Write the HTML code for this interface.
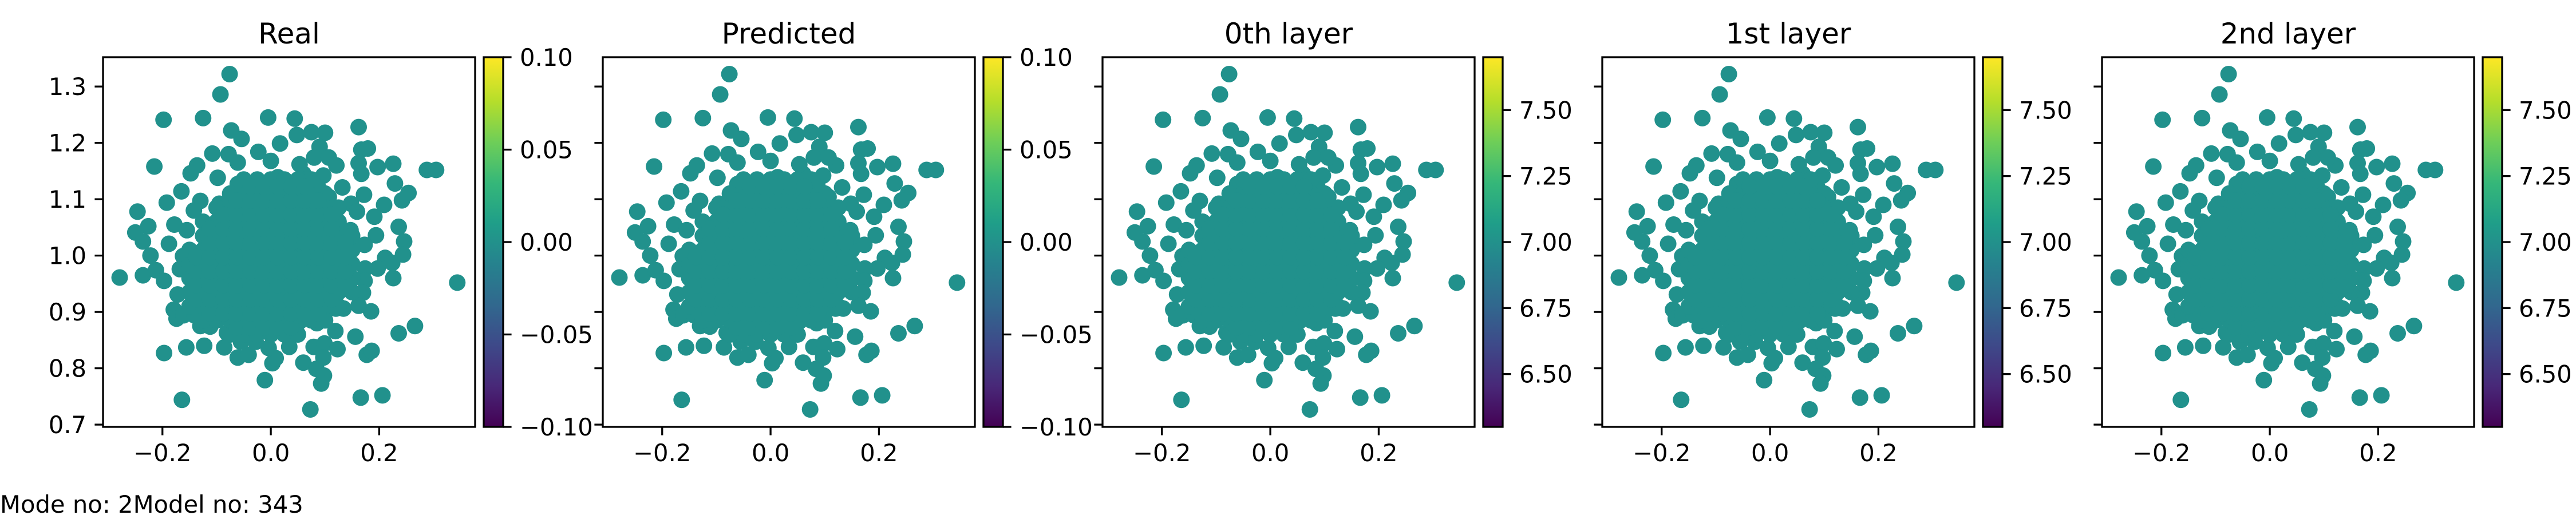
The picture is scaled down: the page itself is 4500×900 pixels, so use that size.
<!DOCTYPE html>
<html><head><meta charset="utf-8"><style>
html,body{margin:0;padding:0;background:#fff;}
svg{display:block;font-family:"DejaVu Sans","Liberation Sans",sans-serif;}
</style></head><body>
<svg id="chart" width="4500" height="900" viewBox="0 0 4500 900" xmlns="http://www.w3.org/2000/svg">
<defs><linearGradient id="viridis" x1="0" y1="1" x2="0" y2="0">
<stop offset="0" stop-color="#440154"/><stop offset="0.11" stop-color="#482878"/><stop offset="0.22" stop-color="#3e4989"/><stop offset="0.33" stop-color="#31688e"/><stop offset="0.44" stop-color="#26828e"/><stop offset="0.55" stop-color="#1f9e89"/><stop offset="0.66" stop-color="#35b779"/><stop offset="0.77" stop-color="#6ece58"/><stop offset="0.88" stop-color="#b5de2b"/><stop offset="1" stop-color="#fde725"/>
</linearGradient></defs>
<text x="0" y="896" font-size="41.7">Mode no: 2Model no: 343</text>
</svg>
<script>
const panelTitles = ["Real","Predicted","0th layer","1st layer","2nd layer"];
const xTicks = [-0.2,0.0,0.2];
const xTickLabels = ["\u22120.2","0.0","0.2"];
const yTicks = [0.7,0.8,0.9,1.0,1.1,1.2,1.3];
const yTickLabels = ["0.7","0.8","0.9","1.0","1.1","1.2","1.3"];
const cbRanges = [[-0.1,0.1],[-0.1,0.1],[6.3,7.7],[6.3,7.7],[6.3,7.7]];
const cbTicksA = [-0.10,-0.05,0.00,0.05,0.10];
const cbLabelsA = ["\u22120.10","\u22120.05","0.00","0.05","0.10"];
const cbTicksB = [6.50,6.75,7.00,7.25,7.50];
const cbLabelsB = ["6.50","6.75","7.00","7.25","7.50"];
const outerPoints = [
[-0.076,1.322],[-0.093,1.286],[-0.198,1.241],[-0.125,1.244],[-0.005,1.245],[0.044,1.243],[0.162,1.228],[-0.073,1.222],[0.048,1.214],[0.075,1.219],[0.100,1.218],[-0.054,1.207],[0.017,1.199],[0.090,1.193],[-0.023,1.184],[-0.108,1.181],[0.167,1.188],[0.179,1.190],[-0.078,1.180],[-0.215,1.158],[-0.136,1.160],[-0.148,1.146],[-0.061,1.165],[0.162,1.164],[0.197,1.157],[0.226,1.163],[0.288,1.152],[0.305,1.152],[0.121,1.160],[0.167,1.145],[0.097,1.142],[-0.098,1.138],[0.229,1.128],[0.132,1.121],[0.254,1.111],[0.172,1.108],[0.242,1.098],[0.209,1.090],[-0.165,1.114],[-0.192,1.094],[-0.130,1.097],[-0.246,1.078],[0.148,1.092],[0.159,1.078],[0.191,1.069],[-0.226,1.052],[-0.250,1.041],[-0.178,1.055],[-0.236,1.025],[0.236,1.051],[0.194,1.036],[0.246,1.025],[0.173,1.019],[-0.188,1.021],[-0.222,1.000],[0.244,1.002],[0.211,0.996],[0.224,0.987],[-0.279,0.961],[-0.236,0.965],[-0.212,0.974],[-0.197,0.955],[0.344,0.952],[0.226,0.960],[0.197,0.977],[0.174,0.977],[0.173,0.955],[-0.172,0.931],[0.170,0.934],[0.145,0.952],[-0.179,0.904],[-0.174,0.888],[0.185,0.901],[0.162,0.911],[0.134,0.906],[-0.130,0.875],[-0.112,0.874],[0.266,0.875],[0.236,0.862],[0.156,0.856],[0.119,0.866],[0.085,0.880],[0.053,0.883],[0.033,0.863],[-0.081,0.863],[-0.197,0.827],[-0.156,0.837],[-0.123,0.840],[-0.086,0.837],[-0.061,0.819],[-0.041,0.824],[0.003,0.809],[0.009,0.818],[0.034,0.838],[0.079,0.838],[0.099,0.844],[0.123,0.834],[0.097,0.819],[0.060,0.810],[0.084,0.799],[0.098,0.787],[0.093,0.773],[0.177,0.824],[0.186,0.831],[-0.011,0.779],[-0.164,0.744],[0.073,0.727],[0.166,0.748],[0.206,0.752],[-0.028,0.847],[-0.004,0.836],[-0.055,0.847],[-0.161,0.894],[-0.141,0.894],[0.120,0.906],[0.127,1.045],[0.147,1.045],[0.140,1.022],[-0.155,1.045],[-0.162,0.999],[-0.168,0.976],[-0.148,0.964],[-0.142,1.080],[-0.095,1.092],[-0.061,1.127],[-0.028,1.127],[0.013,1.139],[0.060,1.145],[0.087,1.121],[0.107,1.104],[0.114,1.075],[0.080,1.174],[0.053,1.162],[0.000,1.168],[0.107,1.174]];
const corePoints = [
[-0.075,0.86],[-0.05,0.86],[-0.025,0.86],[0,0.86],[0.025,0.86],[0.05,0.86],
[-0.125,0.885],[-0.1,0.885],[-0.075,0.885],[-0.05,0.885],[-0.025,0.885],[0,0.885],[0.025,0.885],[0.05,0.885],[0.075,0.885],[0.1,0.885],
[-0.15,0.91],[-0.125,0.91],[-0.1,0.91],[-0.075,0.91],[-0.05,0.91],[-0.025,0.91],[0,0.91],[0.025,0.91],[0.05,0.91],[0.075,0.91],[0.1,0.91],[0.125,0.91],
[-0.15,0.935],[-0.125,0.935],[-0.1,0.935],[-0.075,0.935],[-0.05,0.935],[-0.025,0.935],[0,0.935],[0.025,0.935],[0.05,0.935],[0.075,0.935],[0.1,0.935],[0.125,0.935],[0.15,0.935],
[-0.15,0.96],[-0.125,0.96],[-0.1,0.96],[-0.075,0.96],[-0.05,0.96],[-0.025,0.96],[0,0.96],[0.025,0.96],[0.05,0.96],[0.075,0.96],[0.1,0.96],[0.125,0.96],[0.15,0.96],
[-0.15,0.985],[-0.125,0.985],[-0.1,0.985],[-0.075,0.985],[-0.05,0.985],[-0.025,0.985],[0,0.985],[0.025,0.985],[0.05,0.985],[0.075,0.985],[0.1,0.985],[0.125,0.985],[0.15,0.985],
[-0.15,1.01],[-0.125,1.01],[-0.1,1.01],[-0.075,1.01],[-0.05,1.01],[-0.025,1.01],[0,1.01],[0.025,1.01],[0.05,1.01],[0.075,1.01],[0.1,1.01],[0.125,1.01],[0.15,1.01],
[-0.125,1.035],[-0.1,1.035],[-0.075,1.035],[-0.05,1.035],[-0.025,1.035],[0,1.035],[0.025,1.035],[0.05,1.035],[0.075,1.035],[0.1,1.035],[0.125,1.035],[0.15,1.035],
[-0.125,1.06],[-0.1,1.06],[-0.075,1.06],[-0.05,1.06],[-0.025,1.06],[0,1.06],[0.025,1.06],[0.05,1.06],[0.075,1.06],[0.1,1.06],[0.125,1.06],
[-0.1,1.085],[-0.075,1.085],[-0.05,1.085],[-0.025,1.085],[0,1.085],[0.025,1.085],[0.05,1.085],[0.075,1.085],[0.1,1.085],[0.125,1.085],
[-0.075,1.11],[-0.05,1.11],[-0.025,1.11],[0,1.11],[0.025,1.11],[0.05,1.11],[0.075,1.11],[0.1,1.11],
[-0.05,1.135],[-0.025,1.135],[0,1.135],[0.025,1.135],[0.05,1.135],[0.075,1.135]];
const fillPoints = [
[-0.0625,0.8725],[-0.0375,0.8725],[-0.0125,0.8725],[0.0125,0.8725],[0.0375,0.8725],
[-0.1125,0.8975],[-0.0875,0.8975],[-0.0625,0.8975],[-0.0375,0.8975],[-0.0125,0.8975],[0.0125,0.8975],[0.0375,0.8975],[0.0625,0.8975],[0.0875,0.8975],
[-0.1375,0.9225],[-0.1125,0.9225],[-0.0875,0.9225],[-0.0625,0.9225],[-0.0375,0.9225],[-0.0125,0.9225],[0.0125,0.9225],[0.0375,0.9225],[0.0625,0.9225],[0.0875,0.9225],[0.1125,0.9225],
[-0.1375,0.9475],[-0.1125,0.9475],[-0.0875,0.9475],[-0.0625,0.9475],[-0.0375,0.9475],[-0.0125,0.9475],[0.0125,0.9475],[0.0375,0.9475],[0.0625,0.9475],[0.0875,0.9475],[0.1125,0.9475],[0.1375,0.9475],
[-0.1375,0.9725],[-0.1125,0.9725],[-0.0875,0.9725],[-0.0625,0.9725],[-0.0375,0.9725],[-0.0125,0.9725],[0.0125,0.9725],[0.0375,0.9725],[0.0625,0.9725],[0.0875,0.9725],[0.1125,0.9725],[0.1375,0.9725],
[-0.1375,0.9975],[-0.1125,0.9975],[-0.0875,0.9975],[-0.0625,0.9975],[-0.0375,0.9975],[-0.0125,0.9975],[0.0125,0.9975],[0.0375,0.9975],[0.0625,0.9975],[0.0875,0.9975],[0.1125,0.9975],[0.1375,0.9975],
[-0.1125,1.0225],[-0.0875,1.0225],[-0.0625,1.0225],[-0.0375,1.0225],[-0.0125,1.0225],[0.0125,1.0225],[0.0375,1.0225],[0.0625,1.0225],[0.0875,1.0225],[0.1125,1.0225],[0.1375,1.0225],
[-0.1125,1.0475],[-0.0875,1.0475],[-0.0625,1.0475],[-0.0375,1.0475],[-0.0125,1.0475],[0.0125,1.0475],[0.0375,1.0475],[0.0625,1.0475],[0.0875,1.0475],[0.1125,1.0475],
[-0.0875,1.0725],[-0.0625,1.0725],[-0.0375,1.0725],[-0.0125,1.0725],[0.0125,1.0725],[0.0375,1.0725],[0.0625,1.0725],[0.0875,1.0725],[0.1125,1.0725],
[-0.0625,1.0975],[-0.0375,1.0975],[-0.0125,1.0975],[0.0125,1.0975],[0.0375,1.0975],[0.0625,1.0975],[0.0875,1.0975],
[-0.0375,1.1225],[-0.0125,1.1225],[0.0125,1.1225],[0.0375,1.1225],[0.0625,1.1225]];

const NS = "http://www.w3.org/2000/svg";
const svg = document.getElementById('chart');
function mk(tag, attrs, parent){const e=document.createElementNS(NS,tag);for(const k in attrs)e.setAttribute(k,attrs[k]);(parent||svg).appendChild(e);return e;}
const AX_W=650, AX_TOP=100, AX_BOT=746, PANEL_STEP=873, AX_LEFT0=180;
const XMIN=-0.3096, XMAX=0.377, YMIN=0.696, YMAX=1.352;
const FS=41.7;

panelTitles.forEach((title,i)=>{
  const L=AX_LEFT0+i*PANEL_STEP, R=L+AX_W;
  const sx=v=>L+(v-XMIN)/(XMAX-XMIN)*AX_W;
  const sy=v=>AX_BOT-(v-YMIN)/(YMAX-YMIN)*(AX_BOT-AX_TOP);
  const g=mk('g',{});
  
  
  const t=mk('text',{x:(L+R)/2,y:76,'font-size':50,'text-anchor':'middle'},g);
  t.textContent=title;
  
  
  const pts=mk('g',{fill:'#21918c'},g);
  
  
  outerPoints.concat(corePoints, fillPoints).forEach(p=>{
    const c=mk('circle',{cx:sx(p[0]).toFixed(1),cy:sy(p[1]).toFixed(1),r:14.5},pts);
    
    
  });
  const fr=mk('rect',{x:L,y:AX_TOP,width:AX_W,height:AX_BOT-AX_TOP,fill:'none',stroke:'#000','stroke-width':3.3},g);
  
  
  xTicks.forEach((v,k)=>{
    const x=sx(v);
    mk('line',{x1:x,x2:x,y1:AX_BOT,y2:AX_BOT+14.6,stroke:'#000','stroke-width':3.3},g);
    const tl=mk('text',{x:x,y:806,'font-size':FS,'text-anchor':'middle'},g);
    tl.textContent=xTickLabels[k];
    
    
  });
  yTicks.forEach((v,k)=>{
    const y=sy(v);
    mk('line',{x1:L-14.6,x2:L,y1:y,y2:y,stroke:'#000','stroke-width':3.3},g);
    if(i===0){
      const tl=mk('text',{x:L-29,y:y+15,'font-size':FS,'text-anchor':'end'},g);
      tl.textContent=yTickLabels[k];
      
      
    }
  });
  const CL=L+665, CW=34;
  const cb=mk('rect',{x:CL,y:AX_TOP,width:CW,height:AX_BOT-AX_TOP,fill:'url(#viridis)',stroke:'#000','stroke-width':3.3},g);
  
  
  const rng=cbRanges[i];
  const ticks=i<2?cbTicksA:cbTicksB, labs=i<2?cbLabelsA:cbLabelsB;
  const cy=v=>AX_BOT-(v-rng[0])/(rng[1]-rng[0])*(AX_BOT-AX_TOP);
  ticks.forEach((v,k)=>{
    const y=cy(v);
    mk('line',{x1:CL+CW,x2:CL+CW+14.6,y1:y,y2:y,stroke:'#000','stroke-width':3.3},g);
    const tl=mk('text',{x:CL+CW+29,y:y+15,'font-size':FS},g);
    tl.textContent=labs[k];
    
    
  });
});
</script>
</body></html>
